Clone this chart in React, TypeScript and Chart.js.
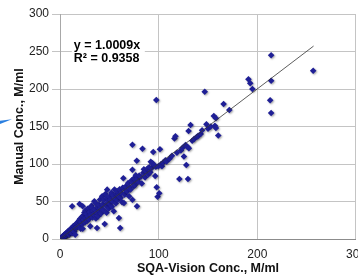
import React, { useEffect, useRef } from "react";
import { Chart, registerables } from "chart.js";

Chart.register(...registerables);

// SQA-Vision concentration (x) vs Manual concentration (y), M/ml
const seg0to20: [number, number][] = [
  [0.3, 0.5], [0.8, 0.2], [1.2, 1.6], [1.6, 0.9], [2.1, 2.8], [2.4, 1.7], [2.9, 3.6], [3.1, 2.2],
  [3.6, 4.6], [3.9, 3.1], [4.4, 5.8], [4.8, 3.9], [5.2, 6.6], [5.5, 4.9], [6.1, 7.3], [6.3, 4.6],
  [6.8, 8.1], [7.2, 6.2], [7.6, 9.4], [8.1, 7.1], [8.3, 10.6], [8.8, 8.4], [9.2, 5.9], [9.6, 11.5],
  [10.1, 9.1], [10.4, 12.8], [11.0, 10.2], [11.3, 14.1], [11.9, 11.2], [12.2, 7.8], [12.7, 15.3],
  [13.1, 12.3], [13.6, 17.2], [14.0, 13.4], [14.4, 9.8], [15.0, 16.4], [15.4, 5.7], [15.6, 19.3],
  [16.2, 14.8], [16.8, 20.5], [17.3, 16.1], [17.9, 22.4], [18.7, 17.0], [19.2, 24.6], [19.8, 18.3],
  [12.3, 43.6], [19.8, 46.7], [23.0, 43.6],
];
const seg20to40: [number, number][] = [
  [20.4, 27.0], [21.0, 13.9], [21.5, 22.8], [22.1, 29.5], [22.6, 20.1], [23.0, 13.7], [23.5, 31.0],
  [24.1, 25.4], [24.7, 35.2], [25.2, 22.0], [25.8, 38.0], [26.3, 28.3], [26.9, 33.5], [27.5, 24.0],
  [28.0, 40.2], [28.6, 30.1], [29.3, 26.5], [29.7, 41.0], [30.2, 35.8], [30.7, 17.0], [31.4, 31.9],
  [32.0, 44.5], [32.4, 41.3], [33.0, 28.8], [33.6, 37.5], [34.1, 33.0], [34.8, 50.2], [35.3, 39.4],
  [36.0, 48.0], [36.4, 27.5], [37.0, 35.6], [37.5, 14.7], [38.2, 42.8], [38.8, 30.5], [39.4, 45.7],
  [39.9, 37.8],
];
const seg40to60: [number, number][] = [
  [40.5, 52.5], [41.2, 41.0], [41.8, 34.2], [42.7, 57.0], [43.3, 46.2], [44.0, 38.6], [44.6, 52.0],
  [45.3, 20.0], [46.0, 60.0], [46.5, 44.5], [47.2, 35.0], [47.8, 54.7], [47.8, 65.8], [48.5, 48.3],
  [49.3, 40.5], [50.0, 56.5], [50.6, 46.9], [51.2, 52.4], [52.0, 61.5], [52.6, 43.0], [53.3, 50.5],
  [54.0, 58.0], [54.5, 37.0], [55.2, 66.0], [55.8, 54.2], [56.5, 47.5], [57.2, 60.3], [57.8, 63.8],
  [58.5, 52.0], [59.2, 57.5], [59.7, 28.0], [60.4, 66.2],
];
const seg60to80: [number, number][] = [
  [61.0, 14.7], [61.5, 55.0], [62.2, 61.4], [62.9, 49.0], [63.5, 68.3], [64.2, 81.0], [64.8, 48.0],
  [64.8, 68.0], [65.5, 59.2], [66.5, 70.0], [67.2, 64.0], [68.3, 63.6], [69.0, 74.5], [70.0, 57.0],
  [70.8, 69.0], [71.5, 66.0], [72.4, 78.0], [73.4, 52.4], [73.4, 92.4], [73.4, 125.7], [74.0, 74.0],
  [74.8, 70.5], [75.0, 81.0], [76.0, 72.0], [76.8, 85.0], [77.5, 76.0], [77.8, 104.4], [78.0, 43.6],
  [78.5, 80.0], [79.5, 76.4], [80.3, 84.5],
];
const seg80to110: [number, number][] = [
  [81.9, 83.0], [82.9, 74.0], [83.6, 120.4], [84.5, 88.5], [85.0, 93.0], [86.2, 82.0], [87.0, 90.5],
  [88.7, 94.0], [89.5, 86.0], [90.4, 95.6], [91.5, 89.0], [92.0, 103.0], [92.8, 94.5], [93.8, 101.0],
  [94.5, 116.0], [95.5, 98.7], [96.5, 84.0], [97.2, 96.4], [97.6, 185.3], [98.0, 69.0], [98.9, 56.4],
  [99.6, 97.0], [100.6, 61.0], [101.3, 119.6], [102.5, 100.0], [103.3, 97.0], [104.5, 102.0],
  [106.8, 105.0], [108.0, 103.5],
];
const seg110up: [number, number][] = [
  [111.0, 107.0], [113.5, 111.0], [116.0, 134.0], [117.0, 137.0], [118.5, 115.0], [121.0, 80.0],
  [122.5, 118.0], [124.0, 121.5], [125.6, 110.0], [127.2, 125.3], [128.0, 98.7], [129.0, 123.0],
  [129.7, 80.0], [130.3, 144.0], [130.6, 121.0], [132.3, 152.0], [134.0, 131.0], [136.0, 133.5],
  [138.5, 136.0], [140.0, 137.5], [142.6, 140.0], [144.0, 145.0], [146.7, 196.4], [148.4, 153.0],
  [150.0, 147.0], [152.8, 150.0], [155.9, 164.0], [157.0, 151.0], [158.0, 161.0], [158.0, 148.0],
  [160.4, 138.0], [165.8, 180.0], [171.6, 172.0], [191.0, 213.0], [192.8, 207.6], [195.0, 200.0],
  [213.0, 185.0], [214.0, 168.0], [214.0, 211.0], [214.0, 245.0], [256.6, 224.4],
];

const trendSlope = 1.0009;
const trendXRange = [0, 257];
const equationLines = ["y = 1.0009x", "R\u00b2 = 0.9358"];
const xTicks = [0, 100, 200, 300];
const yTicks = [0, 50, 100, 150, 200, 250, 300];
const xTitle = "SQA-Vision Conc., M/ml";
const yTitle = "Manual Conc., M/ml";

const FONT = "'Liberation Sans', Arial, Helvetica, sans-serif";

export default function App() {
  const ref = useRef<HTMLCanvasElement | null>(null);

  useEffect(() => {
    if (!ref.current) return;
    const points = [...seg0to20, ...seg20to40, ...seg40to60, ...seg60to80, ...seg80to110, ...seg110up].map(
      ([x, y]) => ({ x, y })
    );
    const trend = trendXRange.map((x) => ({ x, y: trendSlope * x }));

    const equationPlugin = {
      id: "equation",
      afterDatasetsDraw(chart: any) {
        const { ctx, scales } = chart;
        const x0 = scales.x.getPixelForValue(14);
        const y0 = scales.y.getPixelForValue(266);
        ctx.save();
        ctx.fillStyle = "#ffffff";
        ctx.fillRect(x0 - 2, y0 - 3, 73, 28);
        ctx.fillStyle = "#000000";
        ctx.font = `bold 12.5px ${FONT}`;
        ctx.textBaseline = "top";
        ctx.textAlign = "left";
        equationLines.forEach((t, i) => ctx.fillText(t, x0, y0 + i * 12.5));
        ctx.restore();
      },
    };

    const shadowPlugin = {
      id: "markerShadow",
      beforeDatasetDraw(chart: any, args: any) {
        if (args.index !== 1) return;
        const ctx = chart.ctx;
        ctx.save();
        ctx.shadowColor = "rgba(0,0,0,0.35)";
        ctx.shadowBlur = 2;
        ctx.shadowOffsetX = 1;
        ctx.shadowOffsetY = 1;
      },
      afterDatasetDraw(chart: any, args: any) {
        if (args.index !== 1) return;
        chart.ctx.restore();
      },
    };

    const chart = new Chart(ref.current, {
      type: "scatter",
      data: {
        datasets: [
          {
            type: "line",
            data: trend,
            borderColor: "#333333",
            borderWidth: 0.8,
            pointRadius: 0,
            fill: false,
            order: 0,
          } as any,
          {
            data: points,
            pointStyle: "rectRot",
            pointRadius: 3.3,
            pointBackgroundColor: "#1f1f96",
            pointBorderColor: "#1f1f96",
            pointBorderWidth: 0,
            order: 1,
          },
        ],
      },
      options: {
        animation: false,
        responsive: false,
        maintainAspectRatio: false,
        layout: { padding: { left: 0, right: 9, top: 14, bottom: 0 } },
        plugins: { legend: { display: false }, tooltip: { enabled: false } },
        scales: {
          x: {
            type: "linear",
            min: 0,
            max: 300,
            afterFit: (s: any) => {
              s.height = 37;
            },
            afterBuildTicks: (s: any) => {
              s.ticks = xTicks.map((v) => ({ value: v }));
            },
            ticks: { color: "#222", font: { family: FONT, size: 12 }, padding: 8, maxRotation: 0 },
            grid: { color: "#c4c4c4", lineWidth: 1, drawTicks: false },
            border: { color: "#8c8c8c", width: 1 },
            title: {
              display: true,
              text: xTitle,
              color: "#111",
              font: { family: FONT, size: 12.5, weight: "bold" },
              padding: { top: 0, bottom: 0 },
            },
          },
          y: {
            type: "linear",
            min: 0,
            max: 300,
            afterFit: (s: any) => {
              s.width = 60;
            },
            afterBuildTicks: (s: any) => {
              s.ticks = yTicks.map((v) => ({ value: v }));
            },
            ticks: { color: "#222", font: { family: FONT, size: 12 }, padding: 3 },
            grid: { color: "#c4c4c4", lineWidth: 1, tickLength: 8 },
            border: { color: "#a8a8a8", width: 1 },
            title: {
              display: true,
              text: yTitle,
              color: "#111",
              font: { family: FONT, size: 12.5, weight: "bold" },
              padding: { top: 12, bottom: 0 },
            },
          },
        },
      },
      plugins: [equationPlugin, shadowPlugin],
    });
    return () => chart.destroy();
  }, []);

  return (
    <div
      style={{
        position: "fixed",
        left: 0,
        top: 0,
        width: 358,
        height: 276,
        overflow: "hidden",
        background: "#fff",
      }}
    >
      <canvas ref={ref} width={374} height={276} style={{ width: 374, height: 276, display: "block" }} />
      <div
        style={{
          position: "absolute",
          left: 0,
          top: 118,
          width: 12,
          height: 6,
          background: "#2a7fe0",
          clipPath: "polygon(0 45%, 100% 20%, 0 100%)",
        }}
      />
    </div>
  );
}
